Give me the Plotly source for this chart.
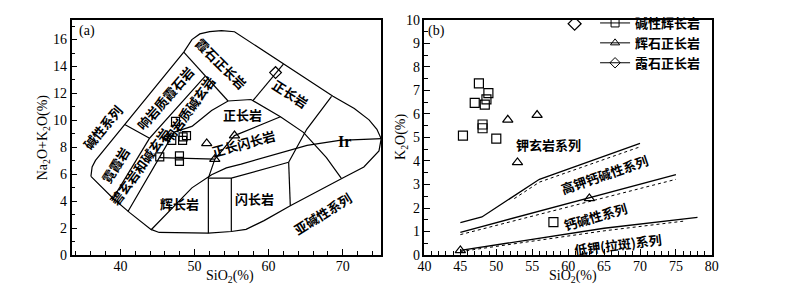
import plotly.graph_objects as go

# ---------------- data: panel (a) TAS ----------------
a_gab_si = [47.44, 46.93, 48.39, 48.92, 48.46, 45.31, 47.97, 47.97]
a_gab_alk = [9.92, 8.52, 8.52, 8.87, 8.78, 7.29, 7.36, 6.96]
a_pyx_si = [51.65, 55.4, 52.74]
a_pyx_alk = [8.29, 8.87, 7.12]
a_ne_si = [60.94]
a_ne_alk = [13.55]

# field boundaries (SiO2, Na2O+K2O)
env_si = [36.02, 36.18, 36.64, 40.58, 48.55, 49.65, 50.72, 52.05, 53.64, 55.40, 62.0, 68.69, 71.57, 73.56, 74.62, 75.2, 74.9, 72.86, 70.01, 62.93, 59.39, 56.96, 54.97, 51.87, 45.23, 44.12, 41.25, 39.03, 36.02]
env_alk = [5.84, 6.54, 7.03, 9.69, 15.07, 16.0, 16.42, 16.59, 16.66, 16.58, 14.18, 11.79, 10.88, 10.04, 9.34, 8.64, 7.73, 6.54, 5.72, 3.66, 2.56, 1.91, 1.75, 1.63, 1.68, 1.91, 3.15, 4.20, 5.84]
b1_si = [51.87, 51.87, 52.75]; b1_alk = [1.63, 5.72, 7.12]
b2_si = [51.87, 54.97, 62.71]; b2_alk = [5.72, 5.72, 6.89]
b3_si = [54.97, 54.97]; b3_alk = [5.72, 1.75]
b4_si = [62.71, 62.93]; b4_alk = [6.89, 3.66]
b5_si = [62.71, 65.15, 68.5]; b5_alk = [6.89, 9.34, 11.79]
b6_si = [49.65, 52.31, 54.53, 57.62, 61.6, 64.7, 67.81, 69.8]
b6_alk = [9.55, 10.74, 11.44, 11.55, 10.27, 9.11, 7.24, 5.72]
b7_si = [57.85, 62.0]; b7_alk = [11.44, 14.18]
b8_si = [48.55, 54.53]; b8_alk = [15.07, 11.44]
b9_si = [40.58, 43.94, 51.42]; b9_alk = [9.69, 8.68, 13.27]
b10_si = [43.94, 39.03]; b10_alk = [8.68, 4.23]
b11_si = [41.02, 45.27, 47.26, 49.65]; b11_alk = [3.24, 7.24, 9.13, 9.55]
b12_si = [45.27, 52.75, 55.4, 61.6]; b12_alk = [7.24, 7.12, 8.87, 10.27]
ir_si = [44.12, 47.0, 49.65, 52.31, 54.3, 56.3, 60.68, 65.19, 69.57, 75.28]
ir_alk = [1.86, 3.52, 4.99, 5.97, 6.47, 6.75, 7.45, 8.15, 8.52, 8.64]

# ---------------- data: panel (b) K2O-SiO2 ----------------
b_gab_si = [45.36, 47.0, 47.58, 48.09, 48.09, 48.4, 48.63, 48.9, 50.0, 57.95]
b_gab_k = [5.08, 6.47, 7.30, 5.55, 5.39, 6.39, 6.62, 6.88, 4.95, 1.40]
b_pyx_si = [51.6, 55.68, 52.95, 62.95, 45.0]
b_pyx_k = [5.75, 5.95, 3.94, 2.41, 0.2]
b_ne_si = [60.9]
b_ne_k = [9.83]

sho_si = [45, 48, 56, 70]; sho_k = [1.38, 1.62, 3.22, 4.75]
sho_d_si = [52.5, 56, 70]; sho_d_k = [2.4, 3.1, 4.6]
hk_si = [45, 75]; hk_k = [0.97, 3.42]
hk_d_si = [45, 75]; hk_d_k = [0.87, 3.22]
lk_si = [45, 65, 78]; lk_k = [0.2, 1.14, 1.6]
lk_d_si = [45, 65, 76]; lk_d_k = [0.15, 1.03, 1.44]

legend_names = ["碱性辉长岩", "辉石正长岩", "霞石正长岩"]

SERIF = "Liberation Serif, Times New Roman, serif"
CJK = "Noto Sans CJK SC"

fig = go.Figure()

def line(x, y, xa, ya, dash="solid", w=1.2):
    fig.add_trace(go.Scatter(x=x, y=y, mode="lines", xaxis=xa, yaxis=ya,
                             line=dict(color="black", width=w, dash=dash),
                             showlegend=False, hoverinfo="skip"))

for xs, ys in [(env_si, env_alk), (b1_si, b1_alk), (b2_si, b2_alk), (b3_si, b3_alk),
               (b4_si, b4_alk), (b5_si, b5_alk), (b6_si, b6_alk), (b7_si, b7_alk),
               (b8_si, b8_alk), (b9_si, b9_alk), (b10_si, b10_alk), (b11_si, b11_alk),
               (b12_si, b12_alk), (ir_si, ir_alk)]:
    line(xs, ys, "x", "y")

for xs, ys in [(sho_si, sho_k), (hk_si, hk_k), (lk_si, lk_k)]:
    line(xs, ys, "x2", "y2", w=1.3)
for xs, ys in [(sho_d_si, sho_d_k), (hk_d_si, hk_d_k), (lk_d_si, lk_d_k)]:
    line(xs, ys, "x2", "y2", dash="dot", w=1.0)

def pts(x, y, xa, ya, sym, size):
    fig.add_trace(go.Scatter(x=x, y=y, mode="markers", xaxis=xa, yaxis=ya,
                             marker=dict(symbol=sym, size=size, color="black",
                                         line=dict(color="black", width=1.2)),
                             showlegend=False))

pts(a_gab_si, a_gab_alk, "x", "y", "square-open", 8)
pts(a_pyx_si, a_pyx_alk, "x", "y", "triangle-up-open", 9)
pts(a_ne_si, a_ne_alk, "x", "y", "diamond-open", 9)
pts(b_gab_si, b_gab_k, "x2", "y2", "square-open", 9)
pts(b_pyx_si, b_pyx_k, "x2", "y2", "triangle-up-open", 9)
pts(b_ne_si, b_ne_k, "x2", "y2", "diamond-open", 10)

for name, sym in zip(legend_names, ["square-open", "triangle-up-open", "diamond-open"]):
    fig.add_trace(go.Scatter(x=[None], y=[None], mode="lines+markers", name=name,
                             xaxis="x2", yaxis="y2",
                             line=dict(color="black", width=1),
                             marker=dict(symbol=sym, size=8, color="black",
                                         line=dict(color="black", width=1))))

axis_common = dict(showline=True, linecolor="black", linewidth=1.5, mirror=True,
                   ticks="inside", tickcolor="black", ticklen=6, tickwidth=1.2,
                   showgrid=False, zeroline=False,
                   tickfont=dict(family=SERIF, size=14, color="black"))

fig.update_layout(
    width=800, height=285, margin=dict(l=0, r=0, t=0, b=0),
    paper_bgcolor="white", plot_bgcolor="white",
    xaxis=dict(domain=[0.0719, 0.4659], range=[33.4, 75.2], tickvals=[40, 50, 60, 70],
               minor=dict(dtick=2, tick0=0, ticks="inside", ticklen=4, tickcolor="black"),
               ticklabelstandoff=-3, anchor="y", **axis_common),
    yaxis=dict(domain=[0.1112, 0.986], range=[0, 17.47], tickvals=[0, 2, 4, 6, 8, 10, 12, 14, 16],
               minor=dict(dtick=1, ticks="inside", ticklen=4, tickcolor="black"),
               anchor="x", **axis_common),
    xaxis2=dict(domain=[0.5209, 0.8866], range=[40, 80], dtick=5,
                minor=dict(dtick=1, ticks="inside", ticklen=4, tickcolor="black"),
                ticklabelstandoff=-3, anchor="y2", **axis_common),
    yaxis2=dict(domain=[0.1112, 0.986], range=[0, 10], dtick=1,
                minor=dict(dtick=0.5, ticks="inside", ticklen=4, tickcolor="black"),
                anchor="x2", **axis_common),
    legend=dict(x=0.738, y=1.03, xanchor="left", yanchor="top", bgcolor="rgba(0,0,0,0)",
                font=dict(family=CJK, size=13, color="black", weight="bold"),
                itemwidth=30, tracegroupgap=0),
)

def lab(text, x, y, xref, yref, angle=0, size=13, family=CJK, weight="bold"):
    fig.add_annotation(text=text, x=x, y=y, xref=xref, yref=yref, showarrow=False,
                       xanchor="center", yanchor="middle",
                       textangle=angle, font=dict(family=family, size=size, color="black", weight=weight))

# axis titles
lab("SiO<sub>2</sub>(%)", 0.274, 0.03, "paper", "paper", size=14, family=SERIF, weight="normal")
lab("SiO<sub>2</sub>(%)", 0.71, 0.03, "paper", "paper", size=14, family=SERIF, weight="normal")
lab("Na<sub>2</sub>O+K<sub>2</sub>O(%)", 0.036, 0.55, "paper", "paper", angle=-90, size=14, family=SERIF, weight="normal")
lab("K<sub>2</sub>O(%)", 0.491, 0.55, "paper", "paper", angle=-90, size=14, family=SERIF, weight="normal")

# panel letters
lab("(a)", 0.092, 0.945, "paper", "paper", size=14, family=SERIF, weight="normal")
lab("(b)", 0.536, 0.945, "paper", "paper", size=14, family=SERIF, weight="normal")

# panel (a) field labels (data coordinates)
lab("碱性系列", 37.6, 9.45, "x", "y", -50)
lab("响岩质霞石岩", 46.0, 11.65, "x", "y", -49)
lab("响岩质碱玄岩", 49.2, 10.8, "x", "y", -54)
lab("霞石正长岩", 53.6, 14.25, "x", "y", 45)
lab("正长岩", 62.9, 12.0, "x", "y", 33)
lab("正长岩", 56.5, 10.46, "x", "y", 0)
lab("正长闪长岩", 56.6, 8.3, "x", "y", -15)
lab("霓霞岩", 39.4, 6.7, "x", "y", -58)
lab("碧玄岩和碱玄岩", 42.6, 6.6, "x", "y", -54)
lab("辉长岩", 48.0, 3.8, "x", "y", 0)
lab("闪长岩", 58.1, 4.23, "x", "y", 0)
lab("亚碱性系列", 67.3, 3.1, "x", "y", -32)
lab("Ir", 70.3, 8.43, "x", "y", 0, size=16, family=SERIF, weight="bold")

# panel (b) labels
lab("钾玄岩系列", 57.3, 4.7, "x2", "y2", 0)
lab("高钾钙碱性系列", 65.0, 3.42, "x2", "y2", -19)
lab("钙碱性系列", 63.8, 1.63, "x2", "y2", -16)
lab("低钾(拉斑)系列", 66.9, 0.45, "x2", "y2", -7)

fig.write_html("out.html")
